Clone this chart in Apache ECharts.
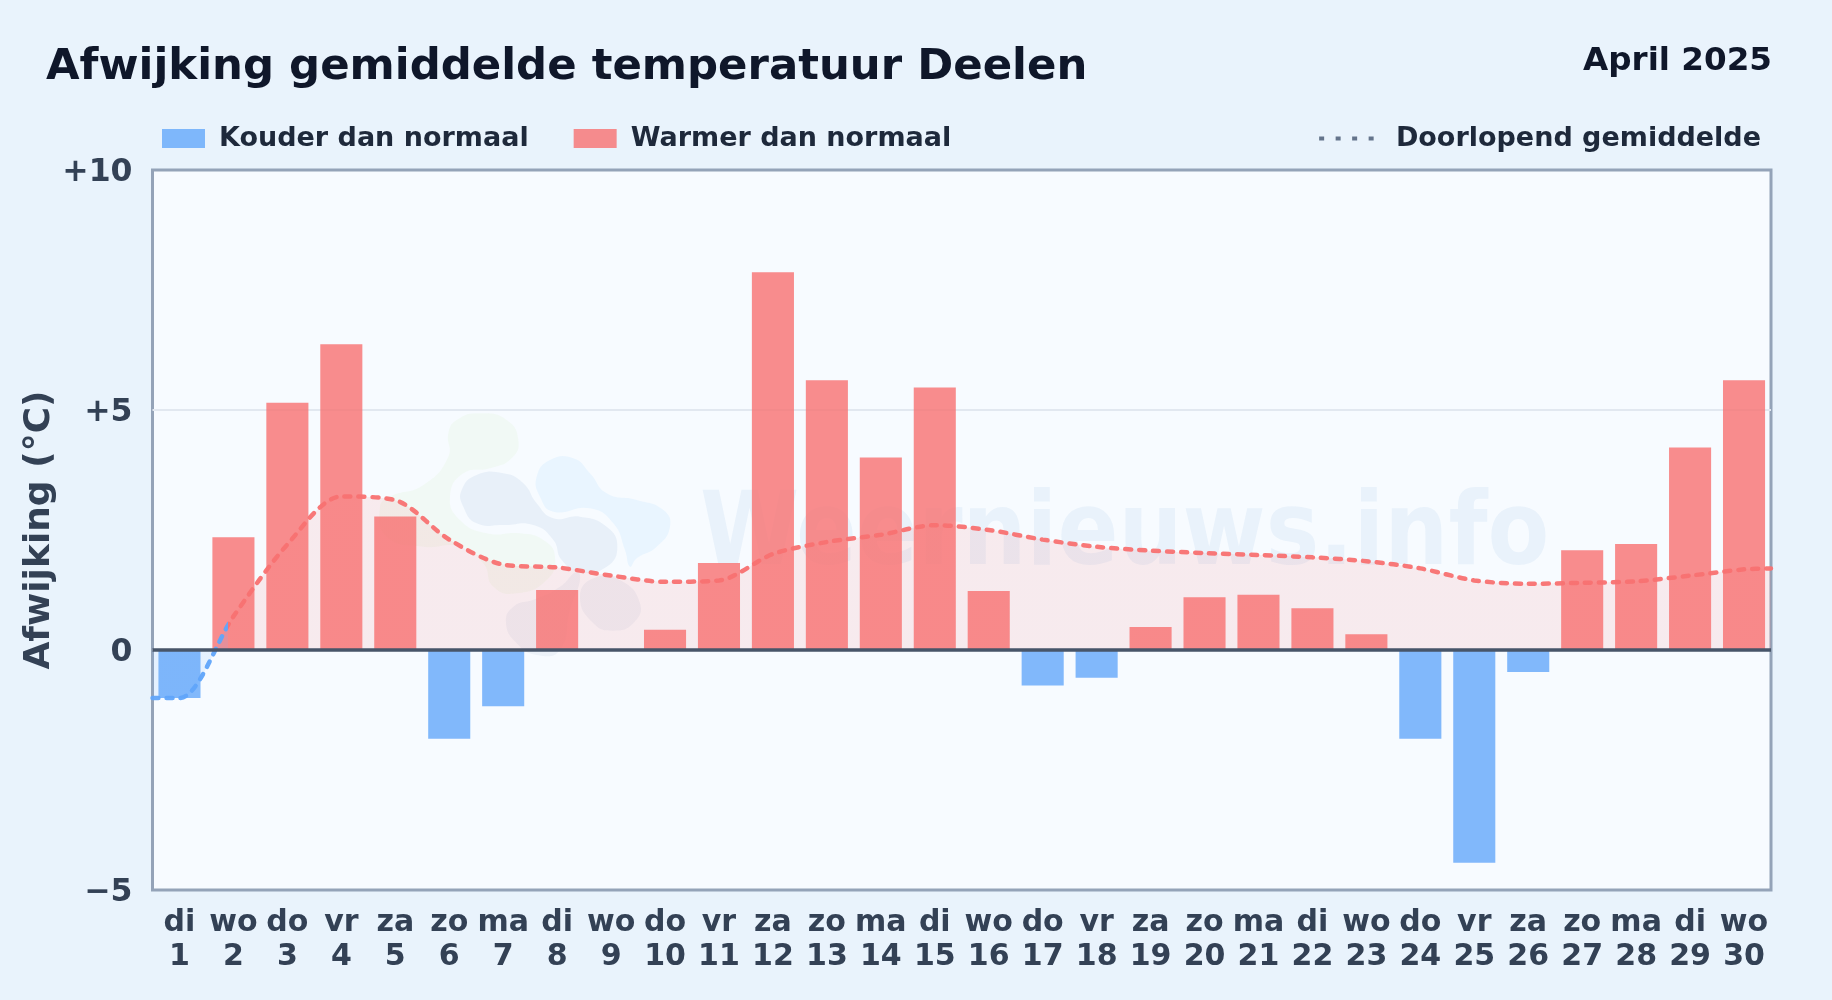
<!DOCTYPE html>
<html><head><meta charset="utf-8">
<style>html,body{margin:0;padding:0;background:#e9f3fc}#c{width:1832px;height:1000px}</style>
<script src="https://cdn.jsdelivr.net/npm/echarts@6/dist/echarts.min.js"></script>
</head><body><div id="c"></div>
<script>
const weekdays = ['di','wo','do','vr','za','zo','ma','di','wo','do','vr','za','zo','ma','di','wo','do','vr','za','zo','ma','di','wo','do','vr','za','zo','ma','di','wo'];
const days = [1,2,3,4,5,6,7,8,9,10,11,12,13,14,15,16,17,18,19,20,21,22,23,24,25,26,27,28,29,30];
const deviation = [-1.0,2.35,5.15,6.37,2.78,-1.85,-1.17,1.25,0,0.42,1.81,7.87,5.62,4.01,5.47,1.23,-0.74,-0.58,0.48,1.10,1.15,0.87,0.33,-1.85,-4.43,-0.46,2.08,2.21,4.22,5.62];
const runningMean = [-1.0,0.7,2.2,3.2,3.12,2.3,1.78,1.72,1.55,1.42,1.45,2.0,2.25,2.4,2.6,2.5,2.3,2.15,2.07,2.02,1.98,1.93,1.85,1.7,1.45,1.38,1.4,1.43,1.55,1.68];
const meanStart = -1.0, meanEnd = 1.7;
const yTicks = {'-5':'−5','0':'0','5':'+5','10':'+10'};
const SOFT = 'DejaVu Sans';

const dotted = 'path://M0 0h5v4h-5zM16.5 0h5v4h-5zM33 0h5v4h-5zM49.5 0h5v4h-5z';
const px = (zx) => 380 + zx/3, py = (zy) => 390 + zy/3;
const blob = (pts, fill) => ({type:'polygon', z:1, silent:true,
  shape:{points:pts.map(p=>[px(p[0]),py(p[1])]), smooth:0.5}, style:{fill}});

const chart = echarts.init(document.getElementById('c'));
chart.setOption({
  animation:false,
  backgroundColor:'#e9f3fc',
  textStyle:{fontFamily:SOFT},
  title:[
    {text:'Afwijking gemiddelde temperatuur Deelen',left:41,top:41,textStyle:{fontFamily:SOFT,fontWeight:'bold',fontSize:43.4,color:'#0f172a'}},
    {text:'April 2025',right:55,top:40,textStyle:{fontFamily:SOFT,fontWeight:'bold',fontSize:32.6,color:'#0f172a'}}
  ],
  legend:[
    {left:157,top:120,itemWidth:43,itemHeight:19,itemGap:45,icon:'rect',
     textStyle:{fontFamily:SOFT,fontWeight:'bold',fontSize:27,color:'#1e293b',padding:[0,0,0,9]},
     data:['Kouder dan normaal','Warmer dan normaal'],selectedMode:false},
    {right:66,top:120,itemWidth:55,itemHeight:4,
     textStyle:{fontFamily:SOFT,fontWeight:'bold',fontSize:27,color:'#1e293b',padding:[0,0,0,17]},
     data:[{name:'Doorlopend gemiddelde',icon:dotted,itemStyle:{color:'#64748b',opacity:1,borderWidth:0}}],selectedMode:false}
  ],
  grid:{left:152.5,right:61,top:170,bottom:110,show:true,backgroundColor:'#f7fbff',borderColor:'#94a3b8',borderWidth:3,containLabel:false},
  xAxis:[
    {type:'category',data:days.map((d,i)=>weekdays[i]+'\n'+d),axisLine:{show:false},axisTick:{show:false},splitLine:{show:false},
     axisLabel:{interval:0,margin:16,fontFamily:SOFT,fontWeight:'bold',fontSize:30,lineHeight:34,color:'#334155'}},
    {type:'value',min:0.5,max:30.5,show:false,splitLine:{show:false}}
  ],
  yAxis:{type:'value',min:-5,max:10,interval:5,
    name:'Afwijking (°C)',nameLocation:'middle',nameGap:95,nameRotate:90,nameMoveOverlap:false,
    nameTextStyle:{fontFamily:SOFT,fontWeight:'bold',fontSize:36,color:'#334155'},
    axisLine:{show:false},axisTick:{show:false},
    splitLine:{showMinLine:false,showMaxLine:false,lineStyle:{color:'#e2e8f0',width:2}},
    axisLabel:{margin:20,formatter:v=>'{v|'+yTicks[v]+'}',
      rich:{v:{padding:[5,0,0,0],fontFamily:SOFT,fontWeight:'bold',fontSize:31.5,color:'#334155'}}}},
  visualMap:{show:false,type:'piecewise',seriesIndex:2,dimension:0,
    pieces:[{min:-10,max:1.9,color:'#60a5fa'},{min:1.9,max:40,color:'#f87171'}]},
  graphic:[
    blob([[205,130],[230,90],[300,70],[380,90],[415,150],[395,205],[330,235],[250,250],[210,320],[240,390],[320,430],[420,430],[490,450],[525,500],[500,570],[410,610],[340,590],[310,520],[240,470],[130,470],[20,440],[0,350],[30,320],[130,285],[205,200]],'rgba(175,225,110,0.07)'),
    blob([[245,300],[290,255],[370,250],[430,280],[470,340],[520,385],[600,380],[680,410],[712,470],[680,530],[600,545],[545,510],[520,450],[460,405],[370,405],[290,400],[250,350]],'rgba(37,99,170,0.07)'),
    blob([[470,260],[510,210],[580,205],[630,250],[680,310],[770,330],[850,360],[870,410],[830,470],[770,505],[750,530],[735,480],[700,400],[630,355],[520,365],[480,320]],'rgba(96,190,250,0.09)'),
    blob([[378,700],[400,650],[465,628],[540,590],[590,545],[600,570],[570,660],[540,780],[470,795],[410,760]],'rgba(37,70,130,0.05)'),
    blob([[600,620],[640,565],[720,570],[780,640],[760,700],[700,722],[640,700]],'rgba(37,70,130,0.05)'),
    {type:'text',z:1,silent:true,x:700,y:588,scaleY:1.12,style:{text:'Weernieuws.info',fontFamily:SOFT,fontWeight:'bold',fontSize:90,fill:'rgba(40,120,200,0.065)',textVerticalAlign:'bottom',textAlign:'left'}}
  ],
  series:[
    {name:'Kouder dan normaal',type:'bar',barWidth:'78%',barGap:'-100%',z:3,
     itemStyle:{color:'#60a5fa',opacity:0.78},data:deviation.map(v=>v<0?v:null)},
    {name:'Warmer dan normaal',type:'bar',barWidth:'78%',barGap:'-100%',z:3,
     itemStyle:{color:'#f87171',opacity:0.8},data:deviation.map(v=>v>0?v:null),
     markLine:{silent:true,symbol:'none',label:{show:false},lineStyle:{color:'#475569',width:3.7,type:'solid'},animation:false,z:6,data:[{yAxis:0}]}},
    {name:'Doorlopend gemiddelde',type:'line',xAxisIndex:1,smooth:0.3,showSymbol:false,symbol:'none',z:5,
     lineStyle:{width:4.5,type:[6,8],cap:'round',opacity:0.95},
     areaStyle:{opacity:0.12,origin:0},
     data:[[0.5,meanStart]].concat(runningMean.map((v,i)=>[days[i],v]),[[30.5,meanEnd]])}
  ]
});
</script></body></html>
